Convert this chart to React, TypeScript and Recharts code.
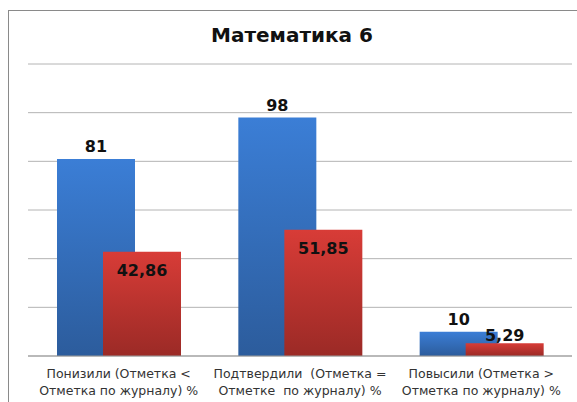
import React from "react";
import { Bar, BarChart, CartesianGrid, LabelList, XAxis, YAxis } from "recharts";

const CATEGORIES = [
  ["Понизили (Отметка <", "Отметка по журналу) %"],
  ["Подтвердили  (Отметка =", "Отметке  по журналу) %"],
  ["Повысили (Отметка >", "Отметка по журналу) %"],
];
const SERIES_A = [81, 98, 10];
const SERIES_B = [42.86, 51.85, 5.29];
const Y_TICKS = [0, 20, 40, 60, 80, 100, 120];

const FONT = "'DejaVu Sans', Verdana, sans-serif";
const GRID = "#b4b4b4";

const data = CATEGORIES.map((c, i) => ({ name: i, a: SERIES_A[i], b: SERIES_B[i] }));

const fmt = (v: number) => String(v).replace(".", ",");

function CatTick({ x, y, payload }: any) {
  const lines = CATEGORIES[payload.value] || [];
  return (
    <text x={x} y={y} textAnchor="middle" fontFamily={FONT} fontSize={12.5} fill="#333" style={{ whiteSpace: "pre" }}>
      {lines.map((l, i) => (
        <tspan key={i} x={x} dy={i === 0 ? 14 : 17}>
          {l}
        </tspan>
      ))}
    </text>
  );
}

// inside-end label, pushed above the bar when the bar is too short
function RedLabel({ x, y, width, height, value }: any) {
  const cy = height < 30 ? y - 8 : y + 18;
  return (
    <text x={x + width / 2} y={cy} dy={6} textAnchor="middle" fontFamily={FONT} fontSize={16} fontWeight="bold" fill="#111">
      {fmt(value)}
    </text>
  );
}

export default function App() {
  return (
    <div style={{ position: "fixed", left: 0, top: 0, width: 577, height: 402, background: "#fff", overflow: "hidden" }}>
      <div style={{ position: "absolute", left: 8, top: 10, width: 600, height: 420, border: "1px solid #8a8a8a" }} />
      <div
        style={{
          position: "absolute",
          left: 0,
          top: 23,
          width: 584,
          textAlign: "center",
          fontFamily: FONT,
          fontWeight: "bold",
          fontSize: 20,
          color: "#111",
        }}
      >
        Математика 6
      </div>
      <div style={{ position: "absolute", left: 0, top: 0 }}>
        <BarChart
          width={577}
          height={402}
          data={data}
          margin={{ top: 64, right: 5, left: 28, bottom: 0 }}
          barSize={78}
          barGap={-32}
        >
          <defs>
            <linearGradient id="gBlue" x1="0" y1="0" x2="0" y2="1">
              <stop offset="0%" stopColor="#3b7ed6" />
              <stop offset="100%" stopColor="#2c5c9c" />
            </linearGradient>
            <linearGradient id="gRed" x1="0" y1="0" x2="0" y2="1">
              <stop offset="0%" stopColor="#d83c37" />
              <stop offset="100%" stopColor="#9b2a26" />
            </linearGradient>
          </defs>
          <CartesianGrid stroke={GRID} vertical={false} />
          <XAxis
            dataKey="name"
            height={46}
            tick={<CatTick />}
            tickLine={false}
            axisLine={{ stroke: "#999" }}
            interval={0}
          />
          <YAxis hide domain={[0, 120]} ticks={Y_TICKS} />
          <Bar dataKey="a" fill="url(#gBlue)" isAnimationActive={false}>
            <LabelList
              dataKey="a"
              position="top"
              offset={7}
              formatter={(v: any) => fmt(v)}
              style={{ fontFamily: FONT, fontSize: 16, fontWeight: "bold", fill: "#111" }}
            />
          </Bar>
          <Bar dataKey="b" fill="url(#gRed)" isAnimationActive={false}>
            <LabelList dataKey="b" content={<RedLabel />} />
          </Bar>
        </BarChart>
      </div>
    </div>
  );
}
